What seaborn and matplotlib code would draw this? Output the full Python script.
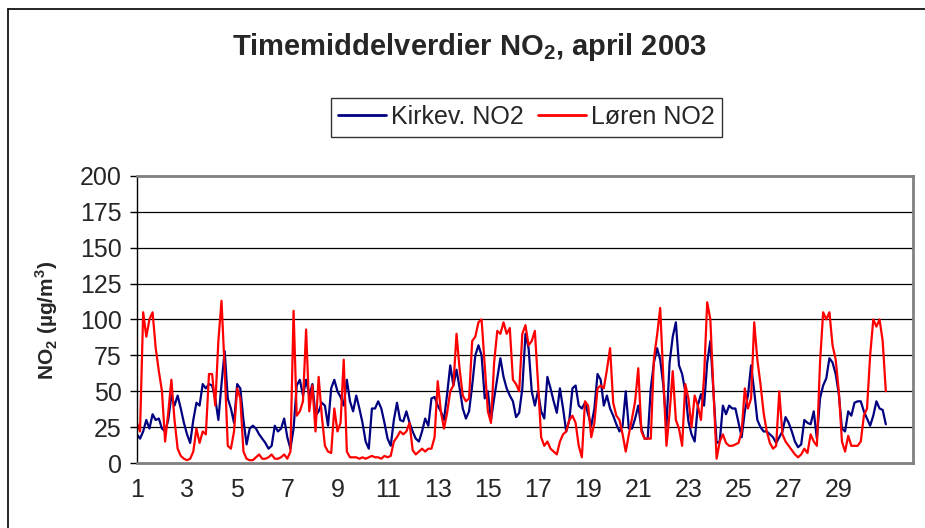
import matplotlib
matplotlib.use("Agg")
import matplotlib.pyplot as plt
from matplotlib.lines import Line2D
import pandas as pd
import seaborn as sns

# Timemiddelverdier NO2, april 2003 - every 3rd hour (8 values per day)
kirkev = [
    [20, 17, 22, 30, 24, 34, 30, 31],   # 1
    [24, 22, 30, 47, 40, 47, 38, 28],   # 2
    [20, 14, 30, 42, 40, 55, 52, 55],   # 3
    [54, 45, 30, 55, 78, 45, 38, 28],   # 4
    [55, 52, 30, 13, 24, 26, 24, 20],   # 5
    [17, 14, 10, 12, 26, 22, 24, 31],   # 6
    [18, 10, 24, 54, 58, 47, 58, 47],   # 7
    [55, 33, 36, 42, 40, 26, 52, 58],   # 8
    [50, 46, 40, 58, 43, 36, 47, 38],   # 9
    [28, 15, 10, 38, 38, 43, 38, 28],   # 10
    [17, 12, 30, 42, 30, 29, 36, 28],   # 11
    [22, 17, 15, 22, 31, 26, 45, 46],   # 12
    [40, 36, 30, 48, 68, 54, 65, 52],   # 13
    [38, 31, 36, 54, 75, 82, 75, 45],   # 14
    [50, 30, 45, 59, 73, 60, 52, 47],   # 15
    [43, 32, 35, 52, 90, 80, 50, 40],   # 16
    [50, 36, 31, 60, 52, 43, 35, 52],   # 17
    [38, 22, 30, 52, 54, 40, 38, 42],   # 18
    [34, 26, 38, 62, 58, 40, 47, 38],   # 19
    [33, 27, 22, 26, 50, 24, 24, 31],   # 20
    [40, 24, 17, 17, 52, 70, 80, 72],   # 21
    [54, 26, 70, 88, 98, 68, 62, 50],   # 22
    [29, 20, 15, 40, 48, 40, 70, 85],   # 23
    [50, 14, 15, 40, 34, 40, 38, 38],   # 24
    [28, 18, 36, 47, 68, 50, 30, 25],   # 25
    [22, 22, 20, 18, 14, 18, 22, 32],   # 26
    [28, 22, 15, 11, 13, 30, 28, 27],   # 27
    [36, 17, 45, 54, 59, 73, 70, 62],   # 28
    [48, 24, 22, 36, 33, 42, 43, 43],   # 29
    [36, 31, 26, 33, 43, 38, 37, 27],   # 30
]

loren = [
    [28, 22, 105, 88, 100, 105, 80, 64],   # 1
    [50, 15, 35, 58, 30, 10, 5, 3],        # 2
    [2, 3, 8, 24, 14, 22, 20, 62],         # 3
    [62, 40, 85, 113, 66, 12, 10, 22],     # 4
    [52, 45, 8, 3, 2, 2, 4, 6],            # 5
    [3, 3, 4, 6, 3, 3, 4, 6],              # 6
    [3, 8, 106, 33, 36, 43, 93, 36],       # 7
    [54, 22, 60, 33, 12, 8, 7, 38],        # 8
    [22, 28, 72, 8, 4, 4, 4, 3],           # 9
    [4, 3, 4, 5, 4, 4, 3, 5],              # 10
    [4, 5, 15, 18, 22, 20, 22, 28],        # 11
    [9, 6, 8, 10, 8, 10, 10, 18],          # 12
    [57, 36, 24, 35, 50, 54, 90, 65],      # 13
    [47, 43, 45, 85, 88, 98, 100, 68],     # 14
    [36, 28, 70, 92, 90, 98, 90, 94],      # 15
    [58, 55, 50, 90, 96, 82, 85, 92],      # 16
    [56, 18, 12, 15, 10, 8, 6, 15],        # 17
    [20, 22, 30, 33, 28, 12, 4, 43],       # 18
    [40, 18, 28, 52, 54, 52, 65, 80],      # 19
    [42, 33, 30, 20, 8, 20, 31, 43],       # 20
    [66, 22, 17, 17, 17, 73, 89, 108],     # 21
    [59, 12, 35, 64, 30, 24, 12, 55],      # 22
    [45, 25, 47, 40, 30, 60, 112, 100],    # 23
    [50, 3, 15, 20, 14, 12, 12, 13],       # 24
    [14, 22, 52, 38, 45, 98, 72, 55],      # 25
    [35, 22, 14, 10, 12, 50, 20, 15],      # 26
    [12, 9, 6, 4, 6, 10, 7, 20],           # 27
    [15, 12, 70, 105, 100, 105, 82, 72],   # 28
    [50, 15, 8, 19, 12, 12, 12, 15],       # 29
    [33, 38, 75, 100, 95, 100, 85, 50],    # 30
]

stations = ["Kirkev. NO2", "Løren NO2"]
colors = ["#000080", "#FF0000"]
day_labels = [1, 3, 5, 7, 9, 11, 13, 15, 17, 19, 21, 23, 25, 27, 29]

# long table: hour of month, station, value
rows = []
for name, series in zip(stations, [kirkev, loren]):
    for d, vals in enumerate(series):
        for k, v in enumerate(vals):
            rows.append({"hour": d * 24 + k * 3, "station": name, "no2": v})
df = pd.DataFrame(rows)

sns.set_style("white")
plt.rcParams["font.family"] = ["Liberation Sans", "DejaVu Sans"]
plt.rcParams["mathtext.fontset"] = "custom"
plt.rcParams["mathtext.rm"] = "Liberation Sans"
plt.rcParams["mathtext.bf"] = "Liberation Sans:bold"

fig = plt.figure(figsize=(9.25, 5.28), dpi=100)
ax = fig.add_axes([0.148, 0.123, 0.839, 0.544])

sns.lineplot(data=df, x="hour", y="no2", hue="station", hue_order=stations,
             palette=dict(zip(stations, colors)), estimator=None,
             linewidth=1.6, ax=ax, legend=False)

ax.set_xlim(0, 743)
ax.set_ylim(0, 200)
ax.set_yticks(range(0, 201, 25))
ax.set_xticks([(d - 1) * 24 for d in day_labels])
ax.set_xticklabels(day_labels)
ax.tick_params(axis="x", length=0, pad=11, labelsize=18)
ax.tick_params(axis="y", left=True, length=5, width=1, color="black",
               pad=6, labelsize=18)
for y in range(25, 200, 25):
    ax.axhline(y, color="black", lw=0.9, zorder=0)
ax.set_xlabel("")
ax.set_ylabel("")

ax.spines["left"].set_color("black")
ax.spines["left"].set_linewidth(1)
for s in ["top", "right", "bottom"]:
    ax.spines[s].set_color("#808080")
    ax.spines[s].set_linewidth(2)

fig.text(0.508, 0.911, r"Timemiddelverdier NO$_\mathbf{2}$, april 2003",
         ha="center", va="center", fontsize=21, fontweight="bold")
fig.text(47 / 925, 0.394, r"NO$_\mathbf{2}$ (µg/m$^\mathbf{3}$)",
         rotation=90, ha="center", va="center", fontsize=15, fontweight="bold")

handles = [Line2D([], [], color=c, lw=2) for c in colors]
leg = fig.legend(handles, stations, loc="center", bbox_to_anchor=(0.569, 0.778),
                 ncol=2, fontsize=18, frameon=True, fancybox=False,
                 handlelength=1.9, handletextpad=0.2, columnspacing=0.6,
                 borderpad=0.3)
leg.get_frame().set_edgecolor("black")
leg.get_frame().set_linewidth(1)

# outer chart frame
fig.add_artist(Line2D([8 / 925, 8 / 925], [0, 1 - 9 / 528], color="black", lw=1.2))
fig.add_artist(Line2D([8 / 925, 1], [1 - 9 / 528, 1 - 9 / 528], color="black", lw=1.2))

fig.savefig("out.png", dpi=100)
